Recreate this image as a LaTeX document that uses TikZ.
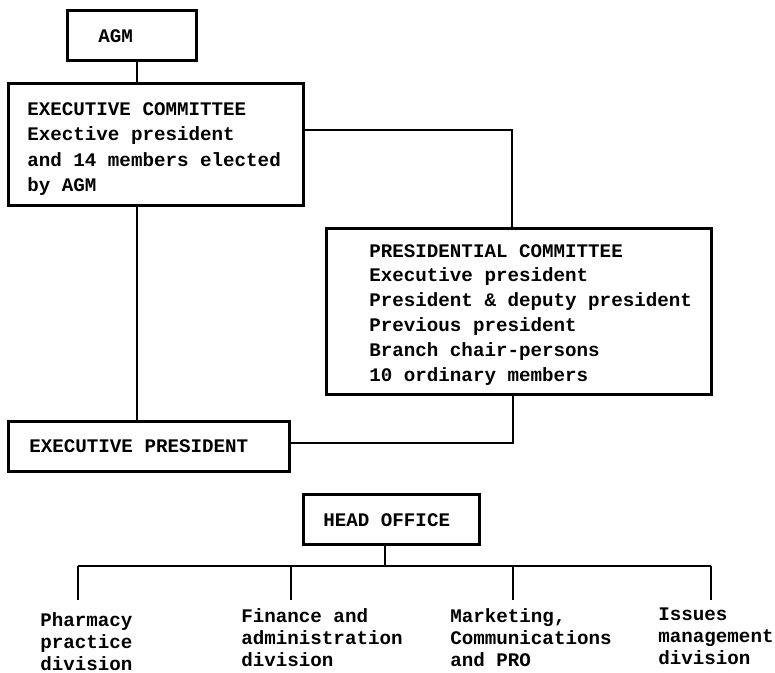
\documentclass[tikz,border=0pt]{standalone}
\usepackage{fontspec}
\setmainfont{Liberation Mono}
\begin{document}
\begin{tikzpicture}[x=0.75pt,y=-0.75pt,
  line width=2pt, line join=miter,
  box/.style={draw, line width=2pt, rectangle, inner sep=0pt, anchor=north west},
  txt/.style={anchor=north west, inner sep=0pt, align=left,
    font=\bfseries\fontsize{14.4pt}{18.6pt}\selectfont},
  txtb/.style={txt, font=\bfseries\fontsize{14.4pt}{16.5pt}\selectfont}]
\useasboundingbox (0,0) rectangle (775,673);

% boxes
\node[box, minimum width=129*0.75pt, minimum height=50*0.75pt] (agm) at (66,9) {};
\node[box, minimum width=295*0.75pt, minimum height=122*0.75pt] (ec) at (7,82) {};
\node[box, minimum width=385*0.75pt, minimum height=166*0.75pt] (pc) at (325,227) {};
\node[box, minimum width=281*0.75pt, minimum height=50*0.75pt] (ep) at (7,420) {};
\node[box, minimum width=176*0.75pt, minimum height=50*0.75pt] (ho) at (302,493) {};

% box texts
\node[txt] (agmt) at (97,28) {AGM};
\node[txt, font=\bfseries\fontsize{14.4pt}{19.2pt}\selectfont] (ect) at (26,101)
  {EXECUTIVE COMMITTEE\\Exective president\\and 14 members elected\\by AGM};
\node[txt] (pct) at (368,243)
  {PRESIDENTIAL COMMITTEE\\Executive president\\President \& deputy president\\Previous president\\Branch chair-persons\\10 ordinary members};
\node[txt] (ept) at (28,438) {EXECUTIVE PRESIDENT};
\node[txt] (hot) at (322,512) {HEAD OFFICE};

% division labels
\node[txtb] (dv1) at (39,611) {Pharmacy\\practice\\division};
\node[txtb] (dv2) at (240,607) {Finance and\\administration\\division};
\node[txtb] (dv3) at (449,607) {Marketing,\\Communications\\and PRO};
\node[txtb] (dv4) at (657,607) {Issues\\management\\division};

% connector anchors
\coordinate (s1) at (137,0);
\coordinate (k1) at (512,130);
\coordinate (k2) at (513,443);
\coordinate (bus) at (385,566);
\coordinate (d1) at (78,600);
\coordinate (d2) at (291,600);
\coordinate (d3) at (513,600);
\coordinate (d4) at (711,600);

% connectors
\draw (agm.south -| s1) -- (ec.north -| s1);
\draw (ec.east |- k1) -| (pc.north -| k1);
\draw (ec.south -| s1) -- (ep.north -| s1);
\draw (ep.east |- k2) -| (pc.south -| k2);
\draw (ho.south -| bus) -- (bus);
\draw (d1 |- bus) -- (d4 |- bus);
\draw (d1 |- bus) -- (d1);
\draw (d2 |- bus) -- (d2);
\draw (d3 |- bus) -- (d3);
\draw (d4 |- bus) -- (d4);
\end{tikzpicture}
\end{document}
